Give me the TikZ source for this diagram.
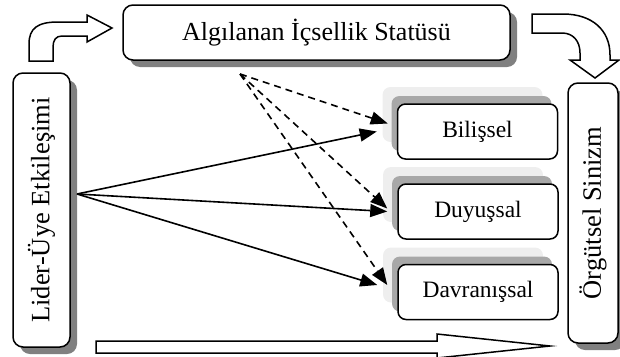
\documentclass[tikz,border=0pt]{standalone}
\usepackage{fontspec}
\usepackage{graphicx}
\setmainfont{Liberation Serif}
\usetikzlibrary{arrows.meta,shadows}
\definecolor{shdark}{HTML}{808080}
\definecolor{shmid}{HTML}{A8A8A8}
\definecolor{shlight}{HTML}{EEEEEE}
\tikzset{
  bigbox/.style={draw, line width=1.5pt, rounded corners=10pt, fill=white, inner sep=0pt,
    drop shadow={shadow xshift=7pt, shadow yshift=-7pt, fill=shdark, opacity=1}},
  smallbox/.style={draw, line width=1.5pt, rounded corners=8pt, fill=white, inner sep=0pt,
    minimum width=160pt, minimum height=55pt, font=\fontsize{23.5}{26}\selectfont,
    drop shadow={shadow xshift=-15pt, shadow yshift=17pt, fill=shlight, opacity=1},
    drop shadow={shadow xshift=-6pt, shadow yshift=8pt, fill=shmid, opacity=1}},
  hollow/.style={draw, line width=1.5pt, fill=white},
  solidarr/.style={line width=1.6pt, -{Triangle[length=17pt,width=13pt]}},
  dasharr/.style={line width=1.6pt, dash pattern=on 7pt off 5pt, -{Triangle[length=17pt,width=13pt]}}
}
\begin{document}
\begin{tikzpicture}[x=1pt,y=-1pt]
\useasboundingbox (0,0) rectangle (620,356);

% hollow arrows
\path[hollow] (29,61) -- (29,44) .. controls (29,28) and (38,22) .. (58,22) -- (87,22) -- (87,15)
  -- (112,28) -- (87,42) -- (87,36) -- (62,36) .. controls (56,36) and (53,40) .. (53,47) -- (53,61) -- cycle;
\path[hollow] (532,14) -- (563,14) .. controls (592,14) and (610,30) .. (610,55) -- (610,60) -- (619,60)
  -- (595,78) -- (570,60) -- (580,60) -- (580,53) .. controls (580,41) and (573,33) .. (562,33) -- (532,33) -- cycle;
\path[hollow] (96,341) -- (437,341) -- (437,334) -- (550,346) -- (437,358) -- (437,353) -- (96,353) -- cycle;

% main boxes
\node[bigbox, minimum width=387pt, minimum height=55pt, font=\fontsize{26}{30}\selectfont]
  (stat) at (316.5,32.5) {Algılanan İçsellik Statüsü};
\node[bigbox, minimum width=57pt, minimum height=274pt, font=\fontsize{26.5}{30}\selectfont]
  (lider) at (41.5,210) {\rotatebox{90}{Lider-Üye Etkileşimi}};
\node[bigbox, minimum width=50pt, minimum height=260pt, font=\fontsize{26.5}{30}\selectfont]
  (sinizm) at (593,213) {\rotatebox{90}{Örgütsel Sinizm}};

\node[smallbox] (bil) at (477.5,131.5) {Bilişsel};
\node[smallbox] (duy) at (478,211.5) {Duyuşsal};
\node[smallbox] (dav) at (478,292) {Davranışsal};

% connectors
\coordinate (ls) at (77,194);
\coordinate (ds) at (240,74);
\draw[solidarr] (ls) -- ([xshift=-20pt,yshift=0pt]bil.west);
\draw[solidarr] (ls) -- ([xshift=-10pt,yshift=0pt]duy.west);
\draw[solidarr] (ls) -- ([xshift=-20pt,yshift=7pt]dav.west);
\draw[dasharr] (ds) -- ([xshift=-9pt,yshift=8pt]bil.west);
\draw[dasharr] (ds) -- ([xshift=-10pt,yshift=3pt]duy.west);
\draw[dasharr] (ds) -- ([xshift=-10pt,yshift=7pt]dav.west);
\end{tikzpicture}
\end{document}
